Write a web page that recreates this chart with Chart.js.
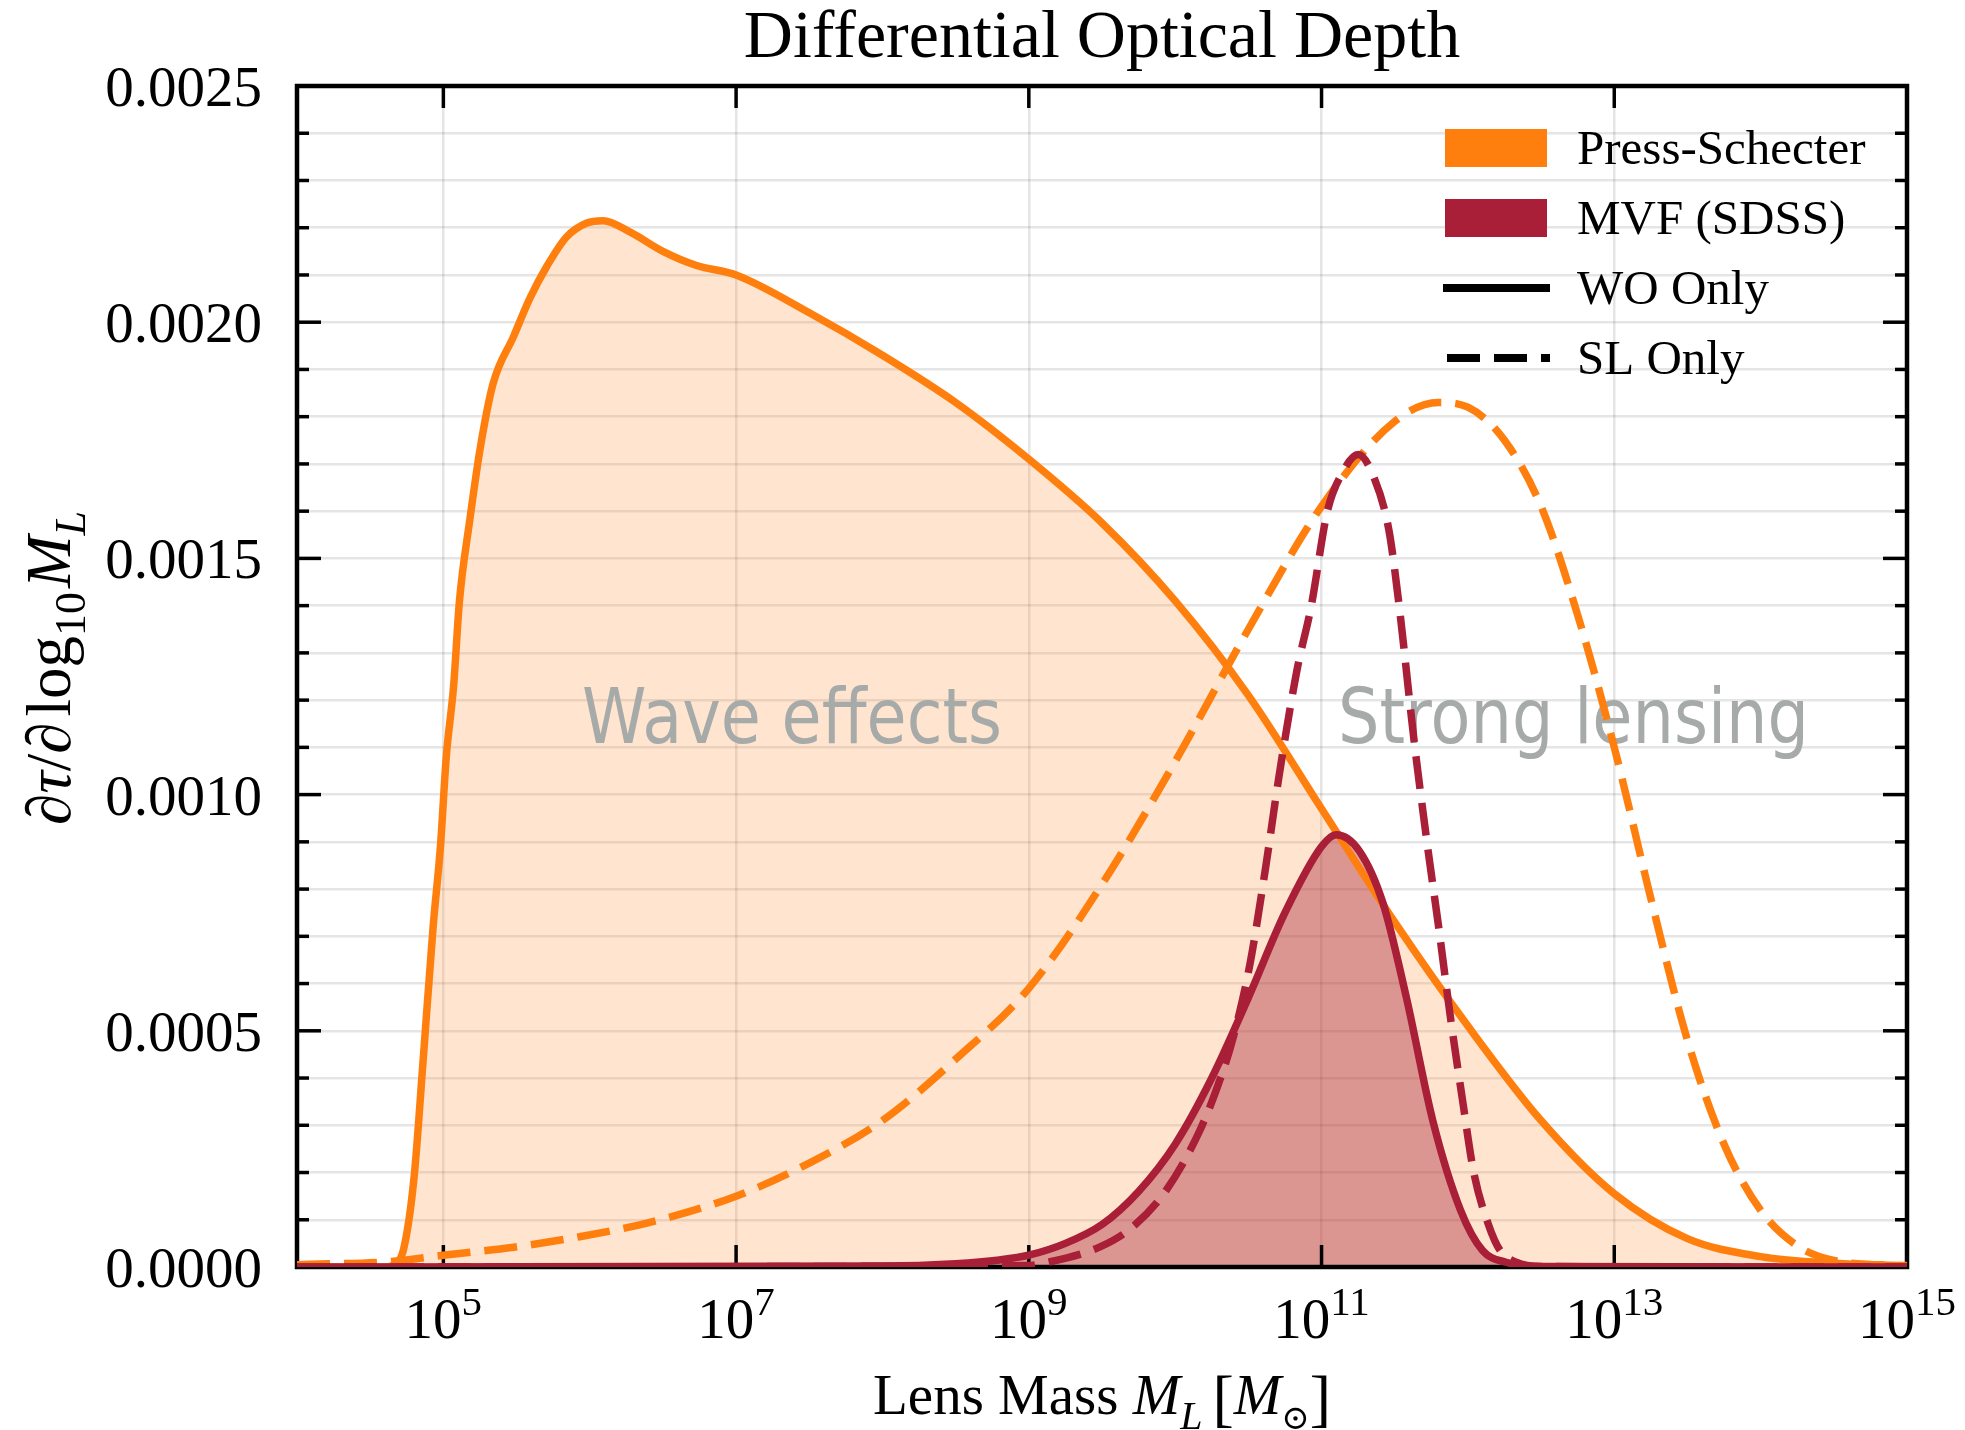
<!DOCTYPE html>
<html>
<head>
<meta charset="utf-8">
<title>Differential Optical Depth</title>
<script src="https://cdn.jsdelivr.net/npm/chart.js@4.4.1/dist/chart.umd.min.js"></script>
<style>
  html, body { margin: 0; padding: 0; background: #fff; }
  #wrap { width: 1965px; height: 1430px; }
</style>
</head>
<body>
<div id="wrap"><canvas id="depthChart" width="1965" height="1430"></canvas></div>
<script>
// values, x given as log10(M_L / M_sun)
const psLogM = [4.0, 4.6, 4.66, 4.73, 4.8, 4.86, 4.93, 4.98, 5.02, 5.07, 5.11, 5.18, 5.25, 5.34, 5.48, 5.59, 5.71, 5.84, 5.98, 6.09,
  6.28, 6.5, 6.73, 7.0, 7.5, 8.0, 8.5, 9.0, 9.5, 10.0, 10.5, 11.0, 11.5, 12.0, 12.5, 13.0, 13.5, 14.0, 14.5, 15.0];
const psWO = [0, 0, 0.000005, 0.00004, 0.00019, 0.00043, 0.00072, 0.00089, 0.00108, 0.00123, 0.00141, 0.00158, 0.00173, 0.00187, 0.00197, 0.00205, 0.00212, 0.00218, 0.00221, 0.002215,
  0.00219, 0.00215, 0.00212, 0.0021, 0.00202, 0.00193, 0.00183, 0.00171, 0.001575, 0.00141, 0.00121, 0.00097, 0.00073, 0.00051, 0.00031, 0.000155, 0.00006, 0.000022, 0.000008, 0.000003];

const psSLLogM = [4.0, 4.66, 5.0, 5.48, 5.93, 6.39, 7.0, 7.5, 8.0, 8.5, 9.0, 9.5, 10.0, 10.5, 11.0, 11.5, 11.8, 12.0, 12.25, 12.5,
  12.75, 13.0, 13.25, 13.5, 13.75, 14.0, 14.25, 14.5, 15.0];
const psSL = [0.000005, 0.000012, 0.000025, 0.000042, 0.000064, 0.000093, 0.00015, 0.00022, 0.00031, 0.00044, 0.00059, 0.00081, 0.00107, 0.00135, 0.00161, 0.00179, 0.00183, 0.00182, 0.00175, 0.00161,
  0.00138, 0.0011, 0.00078, 0.00048, 0.00026, 0.00012, 0.000045, 0.000014, 0.000002];

const mvfLogM = [4.0, 8.0, 8.5, 8.8, 9.0, 9.25, 9.5, 9.75, 10.0, 10.25, 10.5, 10.75, 11.0, 11.1, 11.26, 11.42, 11.58, 11.76, 11.95, 12.1,
  12.26, 12.5, 15.0];
const mvfWO = [0, 0.000002, 0.000007, 0.000015, 0.000025, 0.00005, 0.00009, 0.00016, 0.00026, 0.0004, 0.00057, 0.00075, 0.00089, 0.000915, 0.00088, 0.00077, 0.00057, 0.00031, 0.00012, 0.000035,
  0.00001, 0.000001, 0];

const mvfSLLogM = [4.0, 9.0, 9.1, 9.49, 9.71, 9.94, 10.17, 10.31, 10.4, 10.51, 10.62, 10.71, 10.83, 10.93, 11.04, 11.14, 11.25, 11.36, 11.46, 11.53,
  11.63, 11.72, 11.8, 11.88, 11.96, 12.04, 12.14, 12.22, 12.33, 12.5, 15.0];
const mvfSL = [0, 0.000003, 0.000008, 0.000043, 0.000085, 0.000163, 0.00029, 0.0004, 0.00049, 0.00064, 0.00085, 0.00104, 0.00126, 0.0014, 0.0016, 0.00168, 0.00172, 0.00167, 0.00156, 0.0014,
  0.00112, 0.0009, 0.00072, 0.00053, 0.00036, 0.0002, 0.00009, 0.000035, 0.00001, 0.000001, 0];

const xTickExps = [5, 7, 9, 11, 13, 15];
const legendLabels = ['Press-Schecter', 'MVF (SDSS)', 'WO Only', 'SL Only'];

const ORANGE = '#ff7f0e';
const CRIMSON = '#a81f37';
const SERIF = '"Liberation Serif", "DejaVu Serif", serif';
const DASH = [33, 14];
const LW = 7.5;

const toPoints = (xs, ys) => xs.map((lg, i) => ({ x: Math.pow(10, lg), y: ys[i] }));

function line(ctx, x1, y1, x2, y2) {
    ctx.beginPath();
    ctx.moveTo(x1, y1);
    ctx.lineTo(x2, y2);
    ctx.stroke();
}

// draws a run of text pieces (fonts / baseline shifts) centred on cx
function drawRun(ctx, pieces, cx, baseline) {
    let total = 0;
    pieces.forEach(p => { ctx.font = p.f; p.w = ctx.measureText(p.t).width; total += p.w + (p.gap || 0); });
    let x = cx - total / 2;
    ctx.textAlign = 'left';
    ctx.textBaseline = 'alphabetic';
    pieces.forEach(p => {
        ctx.font = p.f;
        ctx.fillText(p.t, x, baseline + (p.dy || 0));
        x += p.w + (p.gap || 0);
    });
}

// grey region labels, squeezed to the width seen in the figure
function drawRegionText(ctx, text, left, baseline, width) {
    ctx.font = '76px "DejaVu Sans", sans-serif';
    const w = ctx.measureText(text).width;
    ctx.save();
    ctx.translate(left, baseline);
    ctx.scale(width / w, 1);
    ctx.fillStyle = '#a6aaa9';
    ctx.textAlign = 'left';
    ctx.textBaseline = 'alphabetic';
    ctx.fillText(text, 0, 0);
    ctx.restore();
}

const decorations = {
    id: 'decorations',
    beforeDatasetsDraw(chart) {
        const { ctx, chartArea: a, scales } = chart;
        ctx.save();
        drawRegionText(ctx, 'Wave effects', 582, 743, 420);
        drawRegionText(ctx, 'Strong lensing', 1338, 743, 471);

        // frame + inward ticks on all four sides
        ctx.strokeStyle = '#000';
        ctx.lineWidth = 4.5;
        ctx.strokeRect(a.left, a.top, a.right - a.left, a.bottom - a.top);
        ctx.lineWidth = 3.5;
        scales.x.ticks.forEach(t => {
            const px = scales.x.getPixelForValue(t.value);
            line(ctx, px, a.bottom, px, a.bottom - 22);
            line(ctx, px, a.top, px, a.top + 22);
        });
        scales.y.ticks.forEach(t => {
            const major = Math.round(t.value * 1e4) % 5 === 0;
            const len = major ? 24 : 12;
            const py = scales.y.getPixelForValue(t.value);
            line(ctx, a.left, py, a.left + len, py);
            line(ctx, a.right, py, a.right - len, py);
        });
        ctx.restore();
    },
    afterDraw(chart) {
        const { ctx, chartArea: a, scales } = chart;
        ctx.save();
        ctx.fillStyle = '#000';

        // y tick labels
        ctx.font = '57px ' + SERIF;
        ctx.textAlign = 'right';
        ctx.textBaseline = 'alphabetic';
        scales.y.ticks.forEach(t => {
            if (Math.round(t.value * 1e4) % 5 !== 0) return;
            ctx.fillText(t.value.toFixed(4), 262, scales.y.getPixelForValue(t.value) + 20);
        });

        // x tick labels as powers of ten
        scales.x.ticks.forEach(t => {
            const exp = Math.round(Math.log10(t.value));
            drawRun(ctx, [
                { t: '10', f: '57px ' + SERIF },
                { t: String(exp), f: '41px ' + SERIF, dy: -23 }
            ], scales.x.getPixelForValue(t.value), 1338);
        });

        // title and axis titles
        ctx.font = '68px ' + SERIF;
        ctx.textAlign = 'center';
        ctx.fillText('Differential Optical Depth', (a.left + a.right) / 2, 57);

        drawRun(ctx, [
            { t: 'Lens Mass ', f: '57px ' + SERIF },
            { t: 'M', f: 'italic 57px ' + SERIF },
            { t: 'L', f: 'italic 40px ' + SERIF, dy: 15, gap: 10 },
            { t: '[', f: '64px ' + SERIF, dy: 5 },
            { t: 'M', f: 'italic 57px ' + SERIF },
            { t: '\u2299', f: '34px ' + SERIF, dy: 15 },
            { t: ']', f: '64px ' + SERIF, dy: 5 }
        ], (a.left + a.right) / 2, 1414);

        ctx.save();
        ctx.translate(70, 668);
        ctx.rotate(-Math.PI / 2);
        drawRun(ctx, [
            { t: '\u2202', f: 'italic 63px ' + SERIF },
            { t: '\u03c4', f: 'italic 63px ' + SERIF },
            { t: '/', f: '63px ' + SERIF },
            { t: '\u2202', f: 'italic 63px ' + SERIF, gap: 6 },
            { t: 'log', f: '63px ' + SERIF },
            { t: '10', f: '44px ' + SERIF, dy: 15, gap: 4 },
            { t: 'M', f: 'italic 63px ' + SERIF },
            { t: 'L', f: 'italic 44px ' + SERIF, dy: 15 }
        ], 0, 0);
        ctx.restore();

        // legend
        const rows = [148, 218, 288, 358];
        ctx.fillStyle = ORANGE;
        ctx.fillRect(1445, rows[0] - 19, 102, 38);
        ctx.fillStyle = CRIMSON;
        ctx.fillRect(1445, rows[1] - 19, 102, 38);
        ctx.strokeStyle = '#000';
        ctx.lineWidth = 8;
        line(ctx, 1443, rows[2], 1550, rows[2]);
        ctx.setLineDash(DASH);
        line(ctx, 1447, rows[3], 1550, rows[3]);
        ctx.setLineDash([]);
        ctx.fillStyle = '#000';
        ctx.font = '49px ' + SERIF;
        ctx.textAlign = 'left';
        legendLabels.forEach((lab, i) => ctx.fillText(lab, 1577, rows[i] + 16));
        ctx.restore();
    }
};

const gridStyle = { color: 'rgba(0,0,0,0.1)', lineWidth: 2.5, drawTicks: false };

new Chart(document.getElementById('depthChart').getContext('2d'), {
    type: 'line',
    data: {
        datasets: [
            { label: 'MVF (SDSS) SL', data: toPoints(mvfSLLogM, mvfSL), borderColor: CRIMSON, borderWidth: LW, borderDash: DASH, fill: false },
            { label: 'MVF (SDSS) WO', data: toPoints(mvfLogM, mvfWO), borderColor: CRIMSON, borderWidth: LW, fill: 'origin', backgroundColor: 'rgba(168,31,55,0.4)' },
            { label: 'Press-Schecter SL', data: toPoints(psSLLogM, psSL), borderColor: ORANGE, borderWidth: LW, borderDash: DASH, fill: false },
            { label: 'Press-Schecter WO', data: toPoints(psLogM, psWO), borderColor: ORANGE, borderWidth: LW, fill: 'origin', backgroundColor: 'rgba(255,127,14,0.2)' }
        ]
    },
    options: {
        responsive: false,
        animation: false,
        devicePixelRatio: 1,
        layout: { padding: { left: 297, right: 58, top: 86, bottom: 163 } },
        elements: {
            point: { radius: 0 },
            line: { cubicInterpolationMode: 'monotone', borderCapStyle: 'butt', borderJoinStyle: 'round' }
        },
        plugins: {
            legend: { display: false },
            title: { display: false },
            tooltip: { enabled: false },
            filler: { drawTime: 'beforeDatasetsDraw' }
        },
        scales: {
            x: {
                type: 'logarithmic',
                min: 1e4,
                max: 1e15,
                afterBuildTicks: scale => { scale.ticks = xTickExps.map(e => ({ value: Math.pow(10, e) })); },
                ticks: { display: false },
                grid: gridStyle,
                border: { display: false }
            },
            y: {
                min: 0,
                max: 0.0025,
                ticks: { display: false, stepSize: 0.0001 },
                grid: gridStyle,
                border: { display: false }
            }
        }
    },
    plugins: [decorations]
});
</script>
</body>
</html>
